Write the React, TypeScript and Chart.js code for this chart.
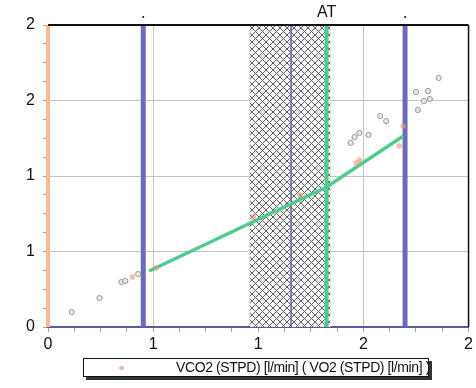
import React, { useEffect, useRef } from "react";
import { Chart, registerables } from "chart.js";

Chart.register(...registerables);

// ---- data ----
const grayX = [0.113, 0.245, 0.349, 0.368, 0.429, 1.439, 1.458, 1.481, 1.524, 1.58, 1.608, 1.759, 1.75, 1.807, 1.788, 1.816, 1.858];
const grayY = [0.099, 0.192, 0.298, 0.305, 0.351, 1.219, 1.258, 1.285, 1.272, 1.397, 1.364, 1.437, 1.556, 1.563, 1.497, 1.51, 1.649];
const orangeX = [0.401, 0.514, 0.976, 1.198, 1.467, 1.481, 1.67, 1.689];
const orangeY = [0.331, 0.391, 0.728, 0.874, 1.086, 1.106, 1.199, 1.331];
const fitX = [0.481, 1.325, 1.69];
const fitY = [0.371, 0.927, 1.265];
const zeroLineX = 0;
const blueLeftX = 0.453;
const blueMidX = 1.156;
const atX = 1.325;
const blueRightX = 1.698;
const hatchX = [0.958, 1.344];
const axisMin = 0;
const axisMax = 2;
const tickStep = 0.125;
const legendText = "VCO2 (STPD) [l/min]  ( VO2 (STPD) [l/min] )";
const atLabel = "AT";

const FONT = "'Liberation Sans', Arial, sans-serif";

function makePattern(): CanvasPattern | string {
  const c = document.createElement("canvas");
  c.width = 7;
  c.height = 7;
  const g = c.getContext("2d");
  if (!g) return "#bbb";
  g.fillStyle = "#f6f6f6";
  g.fillRect(0, 0, 7, 7);
  g.strokeStyle = "#5e5e5e";
  g.lineWidth = 1;
  g.beginPath();
  g.moveTo(0, 0);
  g.lineTo(7, 7);
  g.moveTo(7, 0);
  g.lineTo(0, 7);
  g.stroke();
  const p = g.createPattern(c, "repeat");
  return p || "#bbb";
}

const vline = (x: number) => [
  { x, y: axisMin },
  { x, y: axisMax },
];

const isMajor = (v: number) => Math.abs(v / 0.5 - Math.round(v / 0.5)) < 1e-6;

export default function App() {
  const ref = useRef<HTMLCanvasElement | null>(null);

  useEffect(() => {
    if (!ref.current) return;
    const ticks: number[] = [];
    for (let i = 0; i * tickStep <= axisMax + 1e-9; i++) ticks.push(i * tickStep);

    const decor = {
      id: "decor",
      afterDraw(chart: any) {
        const { ctx, chartArea, scales } = chart;
        ctx.save();
        ctx.strokeStyle = "#111";
        ctx.lineWidth = 2;
        ctx.beginPath();
        ctx.moveTo(chartArea.left, chartArea.top);
        ctx.lineTo(chartArea.right, chartArea.top);
        ctx.stroke();
        ctx.lineWidth = 1.5;
        ctx.beginPath();
        ctx.moveTo(chartArea.right, chartArea.top);
        ctx.lineTo(chartArea.right, chartArea.bottom);
        ctx.stroke();
        ctx.fillStyle = "#111";
        ctx.font = "16px " + FONT;
        ctx.textAlign = "center";
        ctx.textBaseline = "middle";
        ctx.fillText(atLabel, scales.x.getPixelForValue(atX), chartArea.top - 12);
        [blueLeftX, blueRightX].forEach((v) => {
          ctx.beginPath();
          ctx.arc(scales.x.getPixelForValue(v), chartArea.top - 8, 1, 0, Math.PI * 2);
          ctx.fill();
        });
        ctx.restore();
      },
    };

    const chart = new Chart(ref.current, {
      type: "scatter",
      data: {
        datasets: [
          {
            label: "gray",
            data: grayX.map((x, i) => ({ x, y: grayY[i] })),
            pointRadius: 2.6,
            pointBackgroundColor: "#e8e8e8",
            pointBorderColor: "#999999",
            pointBorderWidth: 1,
            order: 1,
          },
          {
            label: "orange",
            data: orangeX.map((x, i) => ({ x, y: orangeY[i] })),
            pointRadius: 2.8,
            pointBackgroundColor: "rgba(240,150,115,0.6)",
            pointBorderWidth: 0,
            order: 2,
          },
          {
            label: "fit",
            data: fitX.map((x, i) => ({ x, y: fitY[i] })),
            showLine: true,
            borderColor: "#52ca8e",
            borderWidth: 3.5,
            pointRadius: 0,
            order: 3,
          },
          {
            label: "at",
            data: vline(atX),
            showLine: true,
            borderColor: "#52ca8e",
            borderWidth: 4,
            pointRadius: 0,
            order: 4,
          },
          {
            label: "blueL",
            data: vline(blueLeftX),
            showLine: true,
            borderColor: "#6b6bb6",
            borderWidth: 5,
            pointRadius: 0,
            order: 5,
          },
          {
            label: "blueR",
            data: vline(blueRightX),
            showLine: true,
            borderColor: "#6b6bb6",
            borderWidth: 5,
            pointRadius: 0,
            order: 6,
          },
          {
            label: "blueM",
            data: vline(blueMidX),
            showLine: true,
            borderColor: "#5c5cae",
            borderWidth: 1.5,
            pointRadius: 0,
            order: 7,
          },
          {
            label: "zero",
            data: vline(zeroLineX),
            showLine: true,
            borderColor: "#f6b994",
            borderWidth: 4,
            pointRadius: 0,
            clip: false,
            order: 8,
          },
          {
            label: "hatch",
            data: hatchX.map((x) => ({ x, y: axisMax })),
            showLine: true,
            fill: "origin",
            backgroundColor: makePattern() as any,
            borderWidth: 0,
            pointRadius: 0,
            order: 9,
          },
        ],
      },
      options: {
        responsive: false,
        animation: false,
        layout: { padding: { left: 0, top: 25, right: 6, bottom: 0 } },
        plugins: { legend: { display: false }, tooltip: { enabled: false } },
        scales: {
          x: {
            type: "linear",
            min: axisMin,
            max: axisMax,
            afterBuildTicks: (s: any) => {
              s.ticks = ticks.map((value) => ({ value }));
            },
            afterFit: (s: any) => {
              s.height = 61;
            },
            ticks: {
              autoSkip: false,
              maxRotation: 0,
              padding: 3,
              color: "#111",
              font: { family: FONT, size: 16 },
              callback: (v: any) => (isMajor(Number(v)) ? String(Math.round(Number(v))) : ""),
            },
            grid: {
              color: (c: any) => {
                const v = c.tick ? c.tick.value : 0;
                return isMajor(v) && v > axisMin && v < axisMax ? "#c4c4c4" : "rgba(0,0,0,0)";
              },
              tickColor: "#a0a0a0",
              tickLength: 5,
            },
            border: { display: true, color: "#5a5aa6", width: 2 },
          },
          y: {
            type: "linear",
            min: axisMin,
            max: axisMax,
            afterBuildTicks: (s: any) => {
              s.ticks = ticks.map((value) => ({ value }));
            },
            afterFit: (s: any) => {
              s.width = 48;
            },
            ticks: {
              autoSkip: false,
              padding: 8,
              color: "#111",
              font: { family: FONT, size: 16 },
              callback: (v: any) => (isMajor(Number(v)) ? String(Math.round(Number(v))) : ""),
            },
            grid: {
              color: (c: any) => {
                const v = c.tick ? c.tick.value : 0;
                return isMajor(v) && v > axisMin && v < axisMax ? "#c4c4c4" : "rgba(0,0,0,0)";
              },
              tickColor: "#a0a0a0",
              tickLength: 5,
            },
            border: { display: false },
          },
        },
      },
      plugins: [decor],
    });
    return () => chart.destroy();
  }, []);

  return (
    <div style={{ position: "absolute", left: 0, top: 0, width: 476, height: 388, background: "#fff" }}>
      <canvas ref={ref} width={476} height={388} style={{ display: "block" }} />
      <div
        style={{
          position: "absolute",
          left: 83,
          top: 358,
          width: 344,
          height: 17,
          border: "1px solid #111",
          boxShadow: "3px 3px 0 #333",
          background: "#fff",
          fontFamily: "'Liberation Sans Narrow', " + FONT,
          fontSize: 14,
          lineHeight: "17px",
          color: "#111",
          whiteSpace: "nowrap",
          overflow: "hidden",
        }}
      >
        <span
          style={{
            position: "absolute",
            left: 35,
            top: 7,
            width: 5,
            height: 4,
            borderRadius: 2,
            background: "rgba(240,150,110,0.7)",
          }}
        />
        <span style={{ position: "absolute", left: 92, top: 0, letterSpacing: "-0.4px" }}>{legendText}</span>
      </div>
    </div>
  );
}
